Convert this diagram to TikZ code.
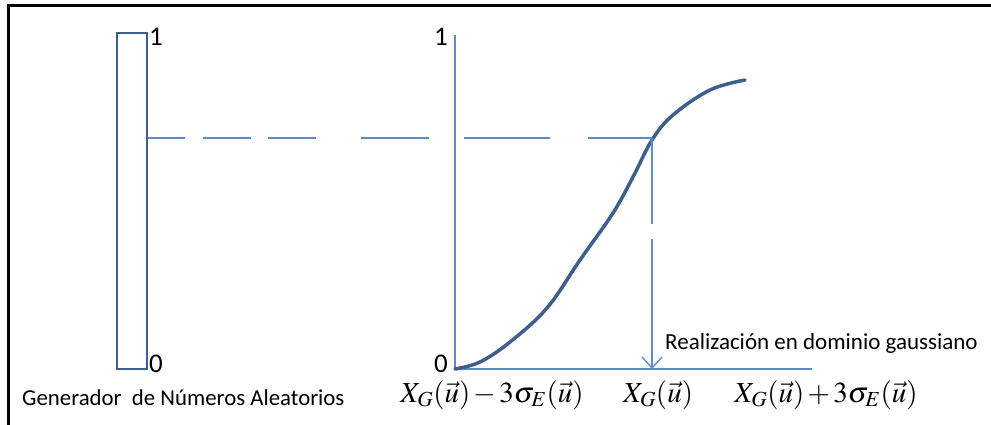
\documentclass[tikz,border=0pt]{standalone}
\usepackage{mathptmx}
\usepackage{fontspec}
\setmainfont{Carlito}
\usetikzlibrary{arrows.meta}
\definecolor{darkblue}{HTML}{3E5F8C}
\definecolor{lightblue}{HTML}{5B8CC8}
\tikzset{
  lbl/.style={inner sep=0pt, font=\fontsize{23}{26}\selectfont},
  digit/.style={inner sep=0pt, font=\fontsize{27}{30}\selectfont},
  mathlbl/.style={inner sep=0pt, font=\fontsize{29}{33}\selectfont},
  axisline/.style={draw=lightblue, line width=1.6pt},
  guide/.style={draw=lightblue, line width=1.4pt}
}
\begin{document}
\begin{tikzpicture}[x=1pt,y=-1pt]
\useasboundingbox (0,0) rectangle (991,425);
% frame
\draw[line width=3pt] (8.5,425) -- (8.5,5.5) -- (991,5.5);
% generator box
\node[draw=darkblue, line width=2pt, minimum width=30pt, minimum height=336pt, inner sep=0pt] (gen) at (132,201) {};
\node[digit, anchor=base west] (g1) at (149,46) {1};
\node[digit, anchor=base west] (g0) at (149,372) {0};
\node[lbl, anchor=base west, font=\fontsize{22.8}{25}\selectfont] (gentxt) at (22,405) {Generador\ \ de Números Aleatorios};
% axes
\coordinate (o) at (455,369);
\coordinate (ytop) at (455,35);
\coordinate (xend) at (812,369);
\draw[axisline] (ytop) -- (o) -- (xend);
\node[digit, anchor=base east] (a1) at (448,46) {1};
\node[digit, anchor=base east] (a0) at (448,372) {0};
% curve
\draw[darkblue, line width=3.5pt, line cap=round] plot[smooth, tension=0.6] coordinates {
 (455,369) (480,362) (510,342) (547,308) (580,260) (613,213) (633,177) (652,140) (673,115) (710,90) (745,80)};
\coordinate (p) at (652,138);
\coordinate (q) at (652,369);
% guides
\draw[guide, dash pattern=on 37pt off 18pt on 48pt off 17pt on 48pt off 45pt on 68pt off 35pt on 86pt off 38pt on 70pt] (gen.east |- p) -- (p);
\draw[guide, dash pattern=on 86pt off 15pt on 300pt, -{Straight Barb[length=11pt,width=20pt,line width=1.4pt]}] (p) -- (q);
\node[lbl, anchor=base west] (real) at (665,349) {Realización en dominio gaussiano};
% x labels
\node[mathlbl, anchor=base] (xl) at (492,402) {$X_G(\vec{u})\,{-}\,3\sigma_E(\vec{u})$};
\node[mathlbl, anchor=base] (xm) at (658,402) {$X_G(\vec{u})$};
\node[mathlbl, anchor=base] (xr) at (826,402) {$X_G(\vec{u})\,{+}\,3\sigma_E(\vec{u})$};
\end{tikzpicture}
\end{document}
